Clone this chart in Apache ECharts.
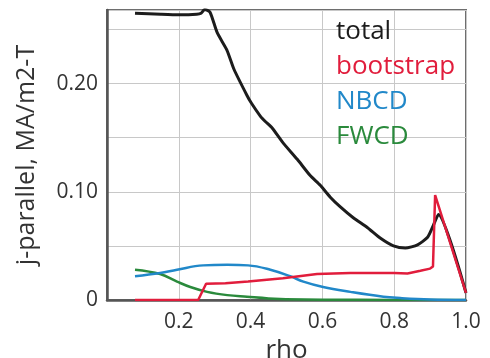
<!DOCTYPE html>
<html>
<head>
<meta charset="utf-8">
<script src="https://cdn.jsdelivr.net/npm/echarts@6/dist/echarts.min.js"></script>
<style>
  html, body { margin: 0; padding: 0; background: #fff; }
  #chart { width: 490px; height: 358px; }
</style>
</head>
<body>
<div id="chart"></div>
<script>
// Parallel current density profiles vs normalized radius
const seriesNames = ['total', 'bootstrap', 'NBCD', 'FWCD'];

const totalRho = [0.078, 0.15, 0.2, 0.25, 0.262, 0.272, 0.287, 0.307, 0.334, 0.354, 0.39, 0.402, 0.427, 0.441, 0.46, 0.491, 0.53, 0.566, 0.594, 0.622, 0.65, 0.686, 0.725, 0.762, 0.798, 0.831, 0.865, 0.893, 0.909, 0.923, 1.0];
const totalVal = [0.265, 0.264, 0.2635, 0.264, 0.265, 0.2685, 0.266, 0.247, 0.231, 0.213, 0.189, 0.182, 0.170, 0.165, 0.159, 0.145, 0.130, 0.115, 0.106, 0.095, 0.086, 0.076, 0.067, 0.057, 0.050, 0.048, 0.051, 0.058, 0.069, 0.079, 0.0065];

const bootRho = [0.078, 0.254, 0.276, 0.33, 0.393, 0.49, 0.585, 0.678, 0.77, 0.8, 0.837, 0.873, 0.9, 0.908, 0.914, 1.0];
const bootVal = [0, 0, 0.015, 0.0155, 0.017, 0.020, 0.024, 0.025, 0.025, 0.025, 0.0245, 0.027, 0.029, 0.031, 0.097, 0.0065];

const nbcdRho = [0.078, 0.148, 0.195, 0.268, 0.335, 0.393, 0.455, 0.51, 0.547, 0.602, 0.678, 0.77, 0.817, 0.9, 1.0];
const nbcdVal = [0.022, 0.025, 0.028, 0.032, 0.0325, 0.032, 0.028, 0.022, 0.017, 0.012, 0.0075, 0.003, 0.0018, 0.0005, 0.0];

const fwcdRho = [0.078, 0.148, 0.195, 0.232, 0.279, 0.335, 0.39, 0.45, 0.55, 0.7, 1.0];
const fwcdVal = [0.028, 0.024, 0.017, 0.012, 0.0075, 0.0045, 0.003, 0.0015, 0.0005, 0.0002, 0.0];

const yTickLabels = { '0': '0', '0.1': '0.10', '0.2': '0.20' };

const colors = { total: '#1c1c1c', bootstrap: '#e11d3c', NBCD: '#2188c9', FWCD: '#2a8a3c' };
const FONT = '"Open Sans", "Noto Sans", sans-serif';

function zip(xs, ys) { return xs.map((x, i) => [x, ys[i]]); }

const chart = echarts.init(document.getElementById('chart'), null, { renderer: 'canvas' });

chart.setOption({
  animation: false,
  backgroundColor: '#fff',
  textStyle: { fontFamily: FONT },
  grid: {
    left: 107, right: 24, top: 10, bottom: 58,
    outerBoundsMode: 'none', containLabel: false,
    show: true, borderColor: '#6e6e6e', borderWidth: 2, backgroundColor: 'transparent'
  },
  legend: {
    orient: 'vertical',
    left: 326, top: 14,
    icon: 'none',
    itemWidth: 0, itemHeight: 14,
    itemGap: 9,
    selectedMode: false,
    textStyle: { fontSize: 26, fontFamily: FONT, lineHeight: 26 },
    data: seriesNames.map(n => ({ name: n, textStyle: { color: colors[n] } }))
  },
  xAxis: {
    type: 'value',
    min: 0, max: 1, interval: 0.2,
    name: 'rho',
    nameLocation: 'middle',
    nameGap: 31,
    nameTextStyle: { fontSize: 26, color: '#333', fontFamily: FONT },
    axisLine: { show: true, onZero: false, lineStyle: { color: '#555', width: 2.5 } },
    axisTick: { show: false },
    axisLabel: {
      fontSize: 21, color: '#333', margin: 12, fontFamily: FONT,
      formatter: v => (v === 0 ? '' : v.toFixed(1))
    },
    splitLine: { show: true, lineStyle: { color: '#c8c8c8', width: 1 } }
  },
  yAxis: {
    type: 'value',
    min: 0, max: 0.268, interval: 0.05,
    name: 'j-parallel, MA/m2-T',
    nameLocation: 'middle',
    nameGap: 68,
    nameTextStyle: { fontSize: 25, color: '#333', fontFamily: FONT },
    axisLine: { show: true, lineStyle: { color: '#555', width: 2.5 } },
    axisTick: { show: false },
    axisLabel: {
      fontSize: 21, color: '#333', margin: 9, fontFamily: FONT,
      formatter: v => {
        const k = String(Math.round(v * 100) / 100);
        return yTickLabels[k] !== undefined ? yTickLabels[k] : '';
      }
    },
    splitLine: { show: true, lineStyle: { color: '#c8c8c8', width: 1 } }
  },
  series: [
    {
      name: 'total', type: 'line', data: zip(totalRho, totalVal),
      showSymbol: false, smooth: 0.2, z: 2,
      lineStyle: { color: colors.total, width: 3 }, itemStyle: { color: colors.total }
    },
    {
      name: 'FWCD', type: 'line', data: zip(fwcdRho, fwcdVal),
      showSymbol: false, smooth: 0.4, z: 3,
      lineStyle: { color: colors.FWCD, width: 2.5 }, itemStyle: { color: colors.FWCD }
    },
    {
      name: 'NBCD', type: 'line', data: zip(nbcdRho, nbcdVal),
      showSymbol: false, smooth: 0.4, z: 4,
      lineStyle: { color: colors.NBCD, width: 2.5 }, itemStyle: { color: colors.NBCD }
    },
    {
      name: 'bootstrap', type: 'line', data: zip(bootRho, bootVal),
      showSymbol: false, smooth: false, z: 5,
      lineStyle: { color: colors.bootstrap, width: 2.5 }, itemStyle: { color: colors.bootstrap }
    }
  ]
});
</script>
</body>
</html>
